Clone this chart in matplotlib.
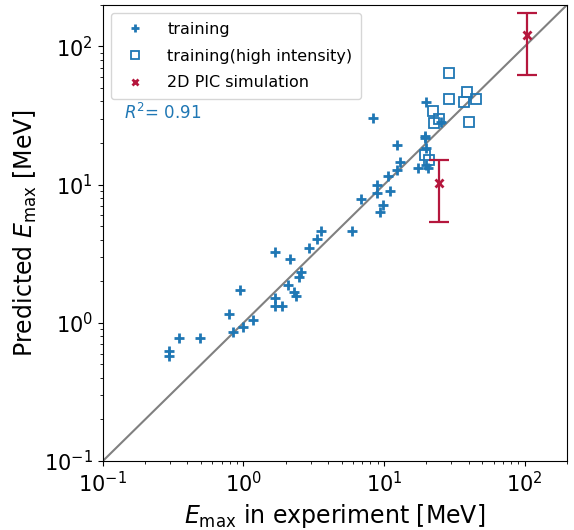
import numpy as np
import matplotlib.pyplot as plt

# training data (experiment, predicted) [MeV]
train_exp = [0.294, 0.294, 0.351, 0.489, 0.784, 0.849, 0.953, 0.99, 1.17, 1.67,
             1.67, 1.67, 1.88, 2.14, 2.06, 2.30, 2.37, 2.47, 2.56, 2.92,
             3.35, 3.56, 5.91, 6.89, 8.28, 8.88, 8.88, 9.38, 9.79, 10.7,
             11.0, 12.3, 12.9, 12.3, 17.4, 19.5, 19.5, 19.7, 20.0, 19.7,
             20.4, 25.4]
train_pred = [0.63, 0.58, 0.778, 0.778, 1.16, 0.865, 1.73, 0.93, 1.05, 3.27,
              1.51, 1.33, 1.33, 2.91, 1.88, 1.67, 1.56, 2.15, 2.33, 3.48,
              4.06, 4.60, 4.60, 7.92, 30.4, 9.89, 8.75, 6.34, 7.16, 11.6,
              9.0, 12.7, 14.6, 19.3, 13.2, 22.5, 21.8, 18.5, 39.7, 13.9,
              13.1, 28.3]

# training (high intensity)
hi_exp = [28.7, 28.7, 39.1, 37.1, 44.9, 40.0, 22.4, 22.7, 24.7, 19.5, 20.9]
hi_pred = [64.1, 41.5, 47.0, 39.7, 41.5, 28.5, 34.0, 27.8, 29.7, 16.3, 15.0]

# 2D PIC simulation with error range
pic_exp = [103.5, 24.4]
pic_pred = [120.8, 10.2]
pic_low = [62.0, 5.37]
pic_high = [173.0, 15.0]

blue = '#1f77b4'
red = '#b5173d'

fig = plt.figure(figsize=(5.74, 5.3), dpi=100)
ax = fig.add_axes([0.179, 0.130, 0.809, 0.861])

ax.plot([0.1, 200], [0.1, 200], color='gray', lw=1.5, zorder=1)
ax.plot(train_exp, train_pred, '+', color=blue, ms=6.5, mew=2, label='training')
ax.plot(hi_exp, hi_pred, 's', mfc='none', mec=blue, ms=7, mew=1.3,
        label='training(high intensity)')

pic_pred = np.array(pic_pred)
yerr = [pic_pred - np.array(pic_low), np.array(pic_high) - pic_pred]
ax.errorbar(pic_exp, pic_pred, yerr=yerr, fmt='none', ecolor=red,
            elinewidth=1.6, capsize=7, capthick=1.6)
ax.plot(pic_exp, pic_pred, 'x', color=red, ms=6, mew=2, label='2D PIC simulation')

ax.set_xscale('log')
ax.set_yscale('log')
ax.set_xlim(0.1, 200)
ax.set_ylim(0.1, 200)

ax.text(0.045, 0.75, '$R^2$= 0.91', transform=ax.transAxes,
        color=blue, fontsize=12)

ax.tick_params(labelsize=15)
ax.set_xlabel('$E_{\\mathrm{max}}$ in experiment [MeV]', fontsize=17)
ax.set_ylabel('Predicted $E_{\\mathrm{max}}$ [MeV]', fontsize=17)

ax.legend(loc='upper left', fontsize=11.5, handletextpad=1.0, borderpad=0.55,
          labelspacing=0.75, markerscale=0.8)

fig.savefig('out.png', dpi=100)
